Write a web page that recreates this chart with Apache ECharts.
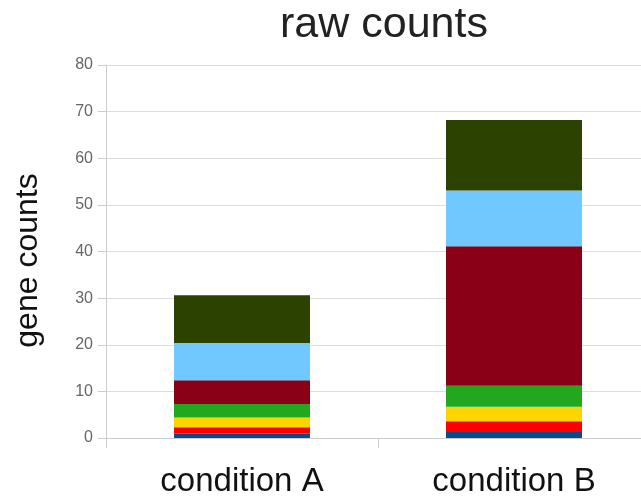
<!DOCTYPE html>
<html><head><meta charset="utf-8">
<script src="https://cdn.jsdelivr.net/npm/echarts@6/dist/echarts.min.js"></script>
<style>html,body{margin:0;padding:0;background:#fff}#c{width:641px;height:501px}</style>
</head><body><div id="c"></div>
<script>
var categories = ['condition A', 'condition B'];
var seriesNames = ['s1', 's2', 's3', 's4', 's5', 's6', 's7'];
var s1 = [0.9, 1.3];
var s2 = [1.4, 2.3];
var s3 = [2.1, 3.1];
var s4 = [2.9, 4.5];
var s5 = [5.1, 29.9];
var s6 = [8.0, 12.0];
var s7 = [10.2, 15.1];
var colors = ['#0a4a8a', '#ff0000', '#ffd500', '#23a71f', '#8a0016', '#70c8ff', '#2b4200'];
var allData = [s1, s2, s3, s4, s5, s6, s7];
var yTicks = [0, 10, 20, 30, 40, 50, 60, 70, 80];

var chart = echarts.init(document.getElementById('c'));
chart.setOption({
  animation: false,
  title: { text: 'raw counts', left: 379, top: -1, textAlign: 'center',
    textStyle: { fontFamily: 'Liberation Sans', fontSize: 43, fontWeight: 'normal', color: '#222' } },
  grid: { left: 106, width: 544, top: 65, bottom: 63, outerBoundsMode: 'none', containLabel: false },
  xAxis: { type: 'category', data: categories,
    axisLine: { lineStyle: { color: '#ccc' } },
    axisTick: { show: true, length: 10, lineStyle: { color: '#ccc' } },
    axisLabel: { margin: 27, fontFamily: 'Liberation Sans', fontSize: 33, color: '#111' } },
  yAxis: { type: 'value', min: yTicks[0], max: yTicks[yTicks.length - 1], interval: 10,
    name: 'gene counts', nameLocation: 'middle', nameGap: 62, nameRotate: 90,
    nameTextStyle: { fontFamily: 'Liberation Sans', fontSize: 32, color: '#111', padding: [0, 18, 0, 0] },
    axisLine: { show: true, lineStyle: { color: '#ccc' } },
    axisTick: { show: true, length: 8, lineStyle: { color: '#ccc' } },
    splitLine: { lineStyle: { color: '#ddd' } },
    axisLabel: { margin: 13, fontFamily: 'Liberation Sans', fontSize: 16, color: '#666' } },
  series: allData.map(function (d, i) {
    return { name: seriesNames[i], type: 'bar', stack: 'total', data: d, barWidth: '50%',
      itemStyle: { color: colors[i] } };
  })
});
</script></body></html>
